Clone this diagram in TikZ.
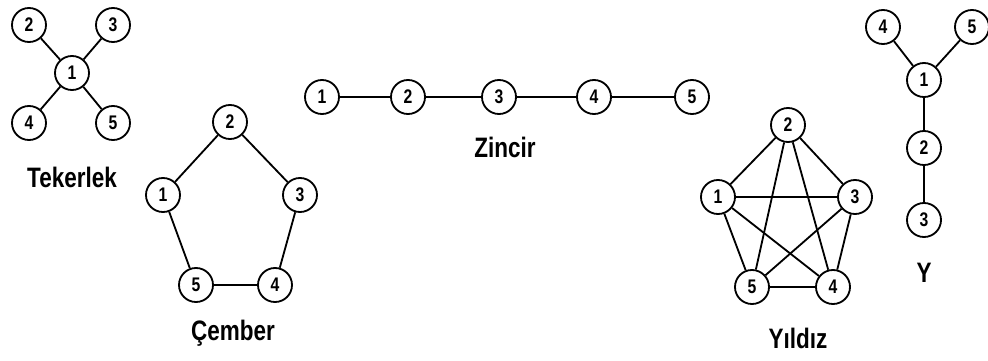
\documentclass[tikz,border=0pt]{standalone}
\usepackage{fontspec}
\setmainfont{Liberation Sans}
\newfontfamily\graphfont[FakeStretch=0.8]{Liberation Sans}
\usepackage{tikz}
\usetikzlibrary{positioning}

\tikzset{
  vertex/.style={draw, circle, line width=1.3pt, minimum size=0.85cm, inner sep=0pt, font=\graphfont\bfseries\fontsize{14}{14}\selectfont},
  edge/.style={line width=1.3pt},
  caption/.style={font=\graphfont\bfseries\fontsize{20}{20}\selectfont}
}

\begin{document}
\begin{tikzpicture}[x=0.025cm, y=-0.025cm]
  \useasboundingbox (0,0) rectangle (988,361);

  % Tekerlek
  \node[vertex] (tek1) at (72,73) {1};
  \node[vertex] (tek2) at (29,25) {2};
  \node[vertex] (tek3) at (113,25) {3};
  \node[vertex] (tek4) at (29,123) {4};
  \node[vertex] (tek5) at (113,123) {5};
  \draw[edge] (tek1) -- (tek2);
  \draw[edge] (tek1) -- (tek3);
  \draw[edge] (tek1) -- (tek4);
  \draw[edge] (tek1) -- (tek5);
  \node[caption] (tekLabel) at (72,177) {Tekerlek};

  % Cember
  \node[vertex] (cem1) at (163,195) {1};
  \node[vertex] (cem2) at (230,122) {2};
  \node[vertex] (cem3) at (300,195) {3};
  \node[vertex] (cem4) at (275,285) {4};
  \node[vertex] (cem5) at (196,285) {5};
  \draw[edge] (cem1) -- (cem2) -- (cem3) -- (cem4) -- (cem5) -- (cem1);
  \node[caption] (cemLabel) at (233,333) {Çember};

  % Zincir
  \node[vertex] (zin1) at (322,97) {1};
  \node[vertex] (zin2) at (408,97) {2};
  \node[vertex] (zin3) at (499,97) {3};
  \node[vertex] (zin4) at (594,97) {4};
  \node[vertex] (zin5) at (692,97) {5};
  \draw[edge] (zin1) -- (zin2) -- (zin3) -- (zin4) -- (zin5);
  \node[caption] (zinLabel) at (505,147) {Zincir};

  % Yildiz
  \node[vertex] (yil1) at (718,197) {1};
  \node[vertex] (yil2) at (788,125) {2};
  \node[vertex] (yil3) at (855,197) {3};
  \node[vertex] (yil4) at (833,287) {4};
  \node[vertex] (yil5) at (752,287) {5};
  \draw[edge] (yil1) -- (yil2) -- (yil3) -- (yil4) -- (yil5) -- (yil1);
  \draw[edge] (yil1) -- (yil3);
  \draw[edge] (yil1) -- (yil4);
  \draw[edge] (yil2) -- (yil4);
  \draw[edge] (yil2) -- (yil5);
  \draw[edge] (yil3) -- (yil5);
  \node[caption] (yilLabel) at (798,338) {Yıldız};

  % Y
  \node[vertex] (ya1) at (924,80) {1};
  \node[vertex] (ya2) at (924,148) {2};
  \node[vertex] (ya3) at (924,220) {3};
  \node[vertex] (ya4) at (883,27) {4};
  \node[vertex] (ya5) at (972,27) {5};
  \draw[edge] (ya1) -- (ya4);
  \draw[edge] (ya1) -- (ya5);
  \draw[edge] (ya1) -- (ya2) -- (ya3);
  \node[caption] (yaLabel) at (924,273) {Y};
\end{tikzpicture}
\end{document}
